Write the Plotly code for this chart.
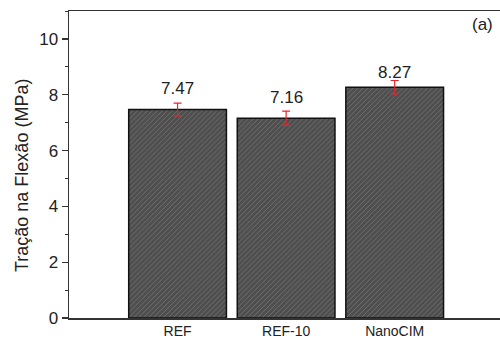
import plotly.graph_objects as go

categories = ["REF", "REF-10", "NanoCIM"]
values = [7.47, 7.16, 8.27]
errors = [0.23, 0.25, 0.24]
value_labels = ["7.47", "7.16", "8.27"]
label_shift = [21, 21, 15]
y_ticks = [0, 2, 4, 6, 8, 10]
y_title = "Tração na Flexão (MPa)"

FONT = "Liberation Sans, Arial, sans-serif"

fig = go.Figure()
fig.add_trace(go.Bar(
    x=list(range(len(categories))),
    y=values,
    width=0.9,
    marker=dict(
        color="#505050",
        line=dict(color="#111111", width=1.5),
        pattern=dict(shape="/", bgcolor="#4e4e4e", fgcolor="#9a9a9a",
                     size=3.5, solidity=0.25, fillmode="overlay"),
    ),
    error_y=dict(type="data", array=errors, visible=True,
                 color="#e8242a", thickness=1.2, width=4),
    showlegend=False,
))

for i, (v, lab, s) in enumerate(zip(values, value_labels, label_shift)):
    fig.add_annotation(x=i, y=v, text=lab, showarrow=False, yshift=s,
                       font=dict(family=FONT, size=17, color="#222"))

fig.add_annotation(xref="paper", yref="paper", x=0.96, y=0.955, text="(a)",
                   showarrow=False, xanchor="center", yanchor="middle",
                   font=dict(family=FONT, size=17, color="#222"))

# y-axis title as rotated annotation (placed like the reference)
fig.add_annotation(xref="paper", yref="paper", x=0, y=0.4625, xshift=-47,
                   text=y_title, textangle=-90, showarrow=False,
                   xanchor="center", yanchor="middle",
                   font=dict(family=FONT, size=18, color="#222"))

fig.update_layout(
    width=500, height=340,
    margin=dict(l=69, r=0, t=11, b=22, autoexpand=False),
    paper_bgcolor="white", plot_bgcolor="white",
    font=dict(family=FONT, color="#222"),
    xaxis=dict(
        range=[-1.0, 2.97], automargin=False,
        tickmode="array", tickvals=list(range(len(categories))), ticktext=categories,
        tickfont=dict(size=14, color="#222"),
        showline=True, linecolor="#333", linewidth=1.5, mirror=True,
        ticks="", showgrid=False, zeroline=False, fixedrange=True,
    ),
    yaxis=dict(
        range=[0, 11], automargin=False,
        tickmode="array", tickvals=y_ticks,
        tickfont=dict(size=17, color="#222"),
        ticks="outside", ticklen=6, tickwidth=1.2, tickcolor="#333",
        minor=dict(dtick=1, ticks="outside", ticklen=3, tickcolor="#333", tickwidth=1),
        showline=True, linecolor="#333", linewidth=1.5, mirror=False,
        showgrid=False, zeroline=False,
    ),
)

fig.write_html(
    "out.html",
    config={"displayModeBar": False, "staticPlot": True},
    post_script="document.body.style.margin='0';document.body.style.overflow='hidden';",
)
